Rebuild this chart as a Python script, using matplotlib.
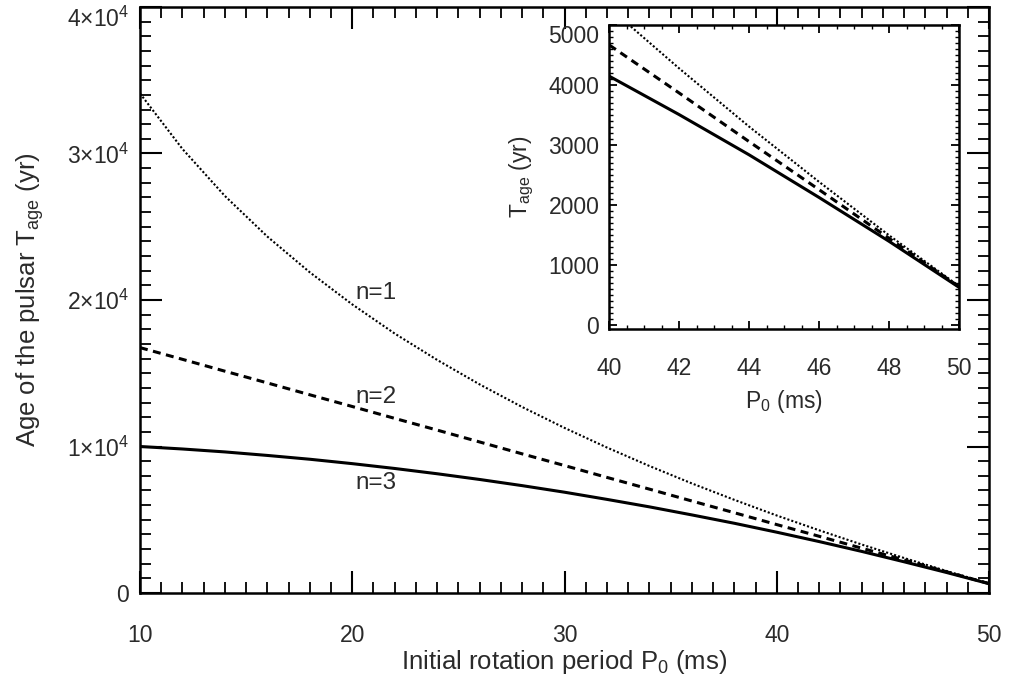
import numpy as np
import matplotlib.pyplot as plt
from matplotlib.ticker import MultipleLocator, FixedLocator

plt.rcParams['font.family'] = ['Liberation Sans', 'DejaVu Sans']
plt.rcParams['mathtext.fontset'] = 'custom'
plt.rcParams['mathtext.rm'] = 'Liberation Sans'
plt.rcParams['mathtext.it'] = 'Liberation Sans'

# initial period P0 (ms) and pulsar age (yr) for braking index n=1,2,3
p0 = [10, 12, 14, 16, 18, 20, 22, 24, 26, 28, 30,
      32, 34, 36, 38, 40, 42, 44, 46, 48, 50]
age_n1 = [34100, 30310, 27100, 24330, 21890, 19700, 17710, 15910, 14240, 12700, 11270,
          9930, 8670, 7480, 6360, 5290, 4280, 3310, 2390, 1500, 655]
age_n2 = [16750, 15950, 15140, 14340, 13530, 12730, 11920, 11120, 10310, 9500, 8700,
          7890, 7090, 6280, 5480, 4670, 3870, 3060, 2260, 1450, 644]
age_n3 = [10000, 9830, 9630, 9390, 9130, 8830, 8500, 8140, 7750, 7330, 6880,
          6390, 5880, 5330, 4760, 4150, 3510, 2840, 2130, 1400, 634]

yticks_main = [0, 1e4, 2e4, 3e4, 4e4]
ylabels_main = ['0', '1×10$^4$', '2×10$^4$', '3×10$^4$', '4×10$^4$']
yticks_ins = [0, 1000, 2000, 3000, 4000, 5000]

tcol = '#2a2a2a'
tick_fs = 16.5
dot = (0, (1, 1.0))
dash = (0, (2.6, 1.8))

fig = plt.figure(figsize=(10.10, 6.92), dpi=100)
ax = fig.add_axes([140/1010, 1-593/692, 849/1010, 586/692])

ax.plot(p0, age_n1, color='black', lw=1.5, linestyle=dot)
ax.plot(p0, age_n2, color='black', lw=2.2, linestyle=dash)
ax.plot(p0, age_n3, color='black', lw=2.2)

ax.set_xlim(10, 50)
ax.set_ylim(0, 4e4)
ax.xaxis.set_major_locator(MultipleLocator(10))
ax.xaxis.set_minor_locator(MultipleLocator(1))
ax.set_yticks(yticks_main, labels=ylabels_main)
ax.yaxis.set_minor_locator(MultipleLocator(1e3))
ax.tick_params(which='both', direction='in', top=True, right=True, labelsize=tick_fs,
               color='black', labelcolor=tcol)
ax.tick_params(which='major', length=16, width=1.5)
ax.tick_params(which='minor', length=8, width=1.3)
ax.tick_params(axis='x', pad=22)
ax.tick_params(axis='y', pad=8)
ax.get_yticklabels()[-1].set_verticalalignment('top')
for s in ax.spines.values():
    s.set_linewidth(1.8)

ax.set_xlabel('Initial rotation period P$_0$ (ms)', fontsize=18.5, color=tcol, labelpad=1)
ax.set_ylabel('Age of the pulsar T$_{age}$ (yr)', fontsize=18.5, color=tcol, labelpad=15)

ax.text(21.1, 20500, 'n=1', fontsize=17.5, color=tcol, ha='center', va='center')
ax.text(21.1, 13400, 'n=2', fontsize=17.5, color=tcol, ha='center', va='center')
ax.text(21.1, 7500, 'n=3', fontsize=17.5, color=tcol, ha='center', va='center')

# inset: zoom on 40-50 ms
ins = fig.add_axes([609/1010, 1-329/692, 350/1010, 304/692])
ins.plot(p0, age_n1, color='black', lw=1.5, linestyle=dot)
ins.plot(p0, age_n2, color='black', lw=2.2, linestyle=dash)
ins.plot(p0, age_n3, color='black', lw=2.2)
ins.set_xlim(40, 50)
ins.set_ylim(-60, 5000)
ins.xaxis.set_major_locator(MultipleLocator(2))
ins.xaxis.set_minor_locator(MultipleLocator(0.5))
ins.set_yticks(yticks_ins)
ins.yaxis.set_minor_locator(MultipleLocator(100))
ins.tick_params(which='both', direction='in', top=True, right=True, labelsize=tick_fs,
                color='black', labelcolor=tcol)
ins.tick_params(which='major', length=6, width=1.3)
ins.tick_params(which='minor', length=3, width=1.0)
ins.tick_params(axis='x', pad=20)
ins.tick_params(axis='y', pad=7)
ins.get_yticklabels()[-1].set_verticalalignment('top')
for s in ins.spines.values():
    s.set_linewidth(1.8)
ins.set_xlabel('P$_0$ (ms)', fontsize=16.5, color=tcol, labelpad=6)
ins.set_ylabel('T$_{age}$ (yr)', fontsize=16.5, color=tcol, labelpad=9)

fig.savefig('out.png', dpi=100)
